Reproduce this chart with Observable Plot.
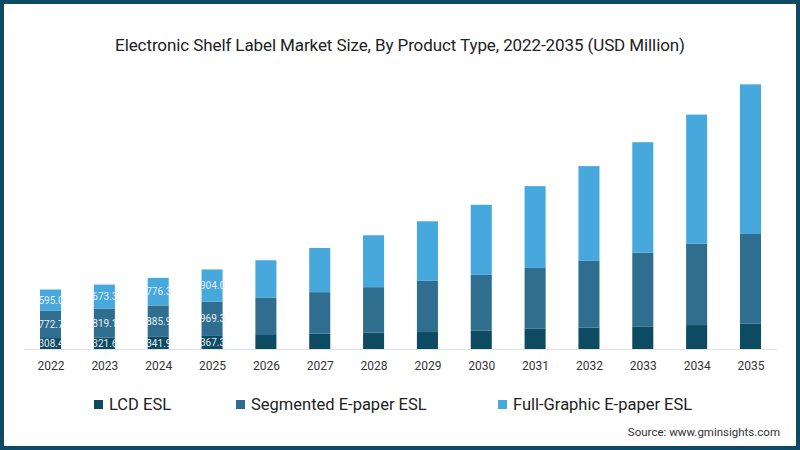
<!DOCTYPE html>
<html>
<head>
<meta charset="utf-8">
<script src="https://cdn.jsdelivr.net/npm/d3@7"></script>
<script src="https://cdn.jsdelivr.net/npm/@observablehq/plot@0.6"></script>
<style>
  html, body { margin: 0; padding: 0; background: #fff; }
  #page { position: relative; width: 800px; height: 450px; overflow: hidden; font-family: "Roboto", "Open Sans", sans-serif; }
  #frame { position: absolute; left: 0; top: 0; width: 800px; height: 450px; box-sizing: border-box; border: 4px solid #0f4a64; pointer-events: none; z-index: 5; }
  #title { position: absolute; top: 35px; left: 0; width: 800px; text-align: center; font-size: 17px; color: #222; letter-spacing: -0.1px; }
  #chart { position: absolute; top: 60px; left: 0; }
  .leg { position: absolute; top: 395px; font-size: 16.5px; color: #222; display: flex; align-items: center; white-space: nowrap; }
  .sw { width: 9px; height: 9px; margin-right: 6px; display: inline-block; }
  #source { position: absolute; top: 425px; right: 20px; font-size: 11.5px; color: #333; }
</style>
</head>
<body>
<div id="page">
  <div id="title">Electronic Shelf Label Market Size, By Product Type, 2022-2035 (USD Million)</div>
  <div id="chart"></div>
  <div id="legend"></div>
  <div id="source">Source: www.gminsights.com</div>
  <div id="frame"></div>
</div>
<script>
const years = ["2022","2023","2024","2025","2026","2027","2028","2029","2030","2031","2032","2033","2034","2035"];
const lcd = [308.4, 321.6, 341.9, 367.3, 394, 430, 458, 478, 514, 570, 599, 638, 674, 711];
const segmented = [772.7, 819.1, 885.9, 969.3, 1059, 1172, 1284, 1442, 1574, 1714, 1883, 2079, 2296, 2529];
const fullGraphic = [595.0, 673.3, 776.3, 904.0, 1047, 1245, 1461, 1678, 1975, 2304, 2670, 3108, 3633, 4215];
const labeledYears = ["2022","2023","2024","2025"];
const seriesNames = ["LCD ESL", "Segmented E-paper ESL", "Full-Graphic E-paper ESL"];
const seriesColors = ["#0d4b63", "#306e8f", "#47a8de"];

const seriesValues = [lcd, segmented, fullGraphic];
const rows = [];
years.forEach((y, i) => {
  seriesNames.forEach((s, k) => rows.push({year: y, series: s, value: seriesValues[k][i]}));
});
const labelRows = rows.filter(d => labeledYears.includes(d.year));

const chart = Plot.plot({
  width: 800,
  height: 320,
  marginTop: 5,
  marginBottom: 31,
  marginLeft: 23.6,
  marginRight: 22.6,
  style: {fontFamily: "Roboto, sans-serif", background: "transparent"},
  x: {domain: years, padding: 0, round: false, label: null, tickSize: 0, tickPadding: 12},
  y: {domain: [0, 8000], axis: null},
  color: {domain: seriesNames, range: seriesColors},
  marks: [
    Plot.barY(rows, {x: "year", y: "value", fill: "series", order: seriesNames, insetLeft: 16.4, insetRight: 16.4}),
    Plot.ruleY([0], {stroke: "#dde3e8", strokeWidth: 1}),
    Plot.text(labelRows, Plot.stackY({x: "year", y: "value", z: "series", order: seriesNames, text: d => d.value.toFixed(1), fill: "#e6eef4", fontSize: 10, textAnchor: "middle"}))
  ]
});
const ax = chart.querySelector("g[aria-label='x-axis tick label']");
if (ax) { ax.setAttribute("font-size", "12"); ax.setAttribute("fill", "#333"); }
document.getElementById("chart").appendChild(chart);

const legendX = [94, 236, 498];
const legend = document.getElementById("legend");
seriesNames.forEach((s, k) => {
  const d = document.createElement("div");
  d.className = "leg";
  d.style.left = legendX[k] + "px";
  d.innerHTML = `<span class="sw" style="background:${seriesColors[k]}"></span>${s}`;
  legend.appendChild(d);
});
</script>
</body>
</html>
